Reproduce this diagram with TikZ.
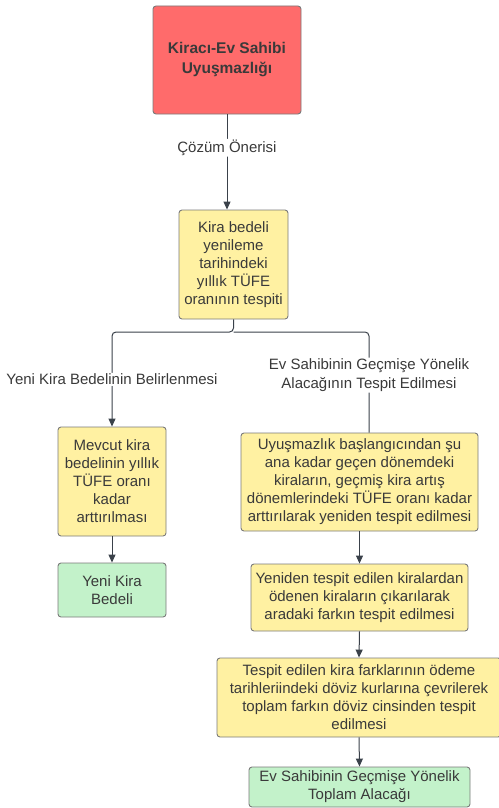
\documentclass[tikz,border=0pt]{standalone}
\usepackage{fontspec}
\setmainfont{Liberation Sans}
\usetikzlibrary{arrows.meta}
\definecolor{redfill}{HTML}{FF6B6B}
\definecolor{yelfill}{HTML}{FFF1A2}
\definecolor{grnfill}{HTML}{C3F2CA}
\definecolor{edgec}{HTML}{7A7A7A}
\definecolor{linec}{HTML}{3A414A}
\definecolor{txtc}{HTML}{3A3A3A}
\begin{document}
\begin{tikzpicture}[x=1pt,y=-1pt,
  box/.style={draw=edgec,line width=0.9pt,rounded corners=3pt,align=center,
    text=txtc,inner sep=2pt,
    font=\fontsize{15}{18}\selectfont},
  redbox/.style={box,fill=redfill,font=\bfseries\fontsize{15.5}{20}\selectfont},
  yelbox/.style={box,fill=yelfill},
  grnbox/.style={box,fill=grnfill},
  conn/.style={draw=linec,line width=1pt,rounded corners=4pt},
  arr/.style={conn,-{Triangle[length=8pt,width=7pt]}},
  lbl/.style={fill=white,text=txtc,align=center,inner sep=1pt,
    font=\fontsize{15}{19}\selectfont}
]
\useasboundingbox (0,0) rectangle (498,808);
\node[redbox,minimum width=148pt,minimum height=108pt] (red) at (227,60) {Kiracı-Ev Sahibi\\Uyuşmazlığı};
\node[yelbox,minimum width=109pt,minimum height=109pt] (y1) at (233.5,264.5) {Kira bedeli\\yenileme\\tarihindeki\\yıllık TÜFE\\oranının tespiti};
\node[yelbox,minimum width=108pt,minimum height=109pt] (l1) at (112,481.5) {Mevcut kira\\bedelinin yıllık\\TÜFE oranı\\kadar\\arttırılması};
\node[grnbox,minimum width=108pt,minimum height=54pt] (l2) at (112,590) {Yeni Kira\\Bedeli};
\node[yelbox,minimum width=237pt,minimum height=98pt] (r1) at (359.5,482) {Uyuşmazlık başlangıcından şu\\ana kadar geçen dönemdeki\\kiraların, geçmiş kira artış\\dönemlerindeki TÜFE oranı kadar\\arttırılarak yeniden tespit edilmesi};
\node[yelbox,minimum width=217pt,minimum height=67pt] (r2) at (359.5,597.5) {Yeniden tespit edilen kiralardan\\ödenen kiraların çıkarılarak\\aradaki farkın tespit edilmesi};
\node[yelbox,minimum width=284pt,minimum height=79pt] (r3) at (359,697.5) {Tespit edilen kira farklarının ödeme\\tarihleriindeki döviz kurlarına çevrilerek\\toplam farkın döviz cinsinden tespit\\edilmesi};
\node[grnbox,minimum width=221pt,minimum height=40pt] (r4) at (359.5,787) {Ev Sahibinin Geçmişe Yönelik\\Toplam Alacağı};
\coordinate (split) at (233.5,332);
\coordinate (lcorner) at (112,332);
\coordinate (rcorner) at (369,332);
\draw[arr] (red.south) -- (red.south |- y1.north)
  node[lbl,pos=0.35] (l0) {Çözüm Önerisi};
\draw[arr] (y1.south) -- (split) -- (lcorner) -- (l1.north)
  node[lbl,pos=0.5] (la) {Yeni Kira Bedelinin Belirlenmesi};
\draw[conn] (split) -- (rcorner) -- (rcorner |- r1.north)
  node[lbl,pos=0.43] (lb) {Ev Sahibinin Geçmişe Yönelik\\Alacağının Tespit Edilmesi};
\draw[arr] (l1.south) -- (l2.north);
\draw[arr] (r1.south) -- (r2.north);
\draw[arr] (r2.south) -- (r3.north);
\draw[arr] (r3.south) -- (r4.north);
\end{tikzpicture}
\end{document}
